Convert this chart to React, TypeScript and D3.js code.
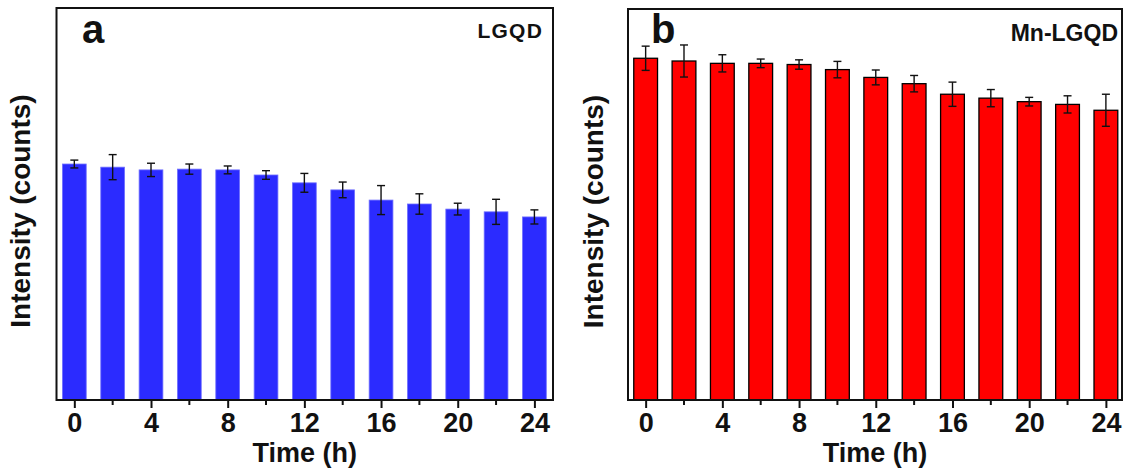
import React from "react";
import * as d3 from "d3";

// time points (h)
const times = [0, 2, 4, 6, 8, 10, 12, 14, 16, 18, 20, 22, 24];
const majorTicks = [0, 4, 8, 12, 16, 20, 24];
const minorTicks = [2, 6, 10, 14, 18, 22];

// intensity (arbitrary counts)
const lgqdValues = [60.2, 59.4, 58.7, 58.9, 58.7, 57.4, 55.4, 53.6, 51.0, 50.0, 48.7, 48.0, 46.7];
const lgqdErrors = [1.0, 3.2, 1.7, 1.3, 1.0, 1.1, 2.4, 2.0, 3.7, 2.6, 1.5, 3.2, 1.8];
const mnValues = [87.4, 86.7, 86.1, 86.1, 85.8, 84.5, 82.5, 80.9, 78.2, 77.2, 76.3, 75.6, 74.1];
const mnErrors = [3.1, 4.1, 2.2, 1.1, 1.2, 2.1, 1.9, 2.1, 3.1, 2.2, 1.1, 2.2, 4.1];

const W = 1125;
const H = 469;
const FONT = '"Liberation Sans", Arial, sans-serif';

type Panel = {
  letter: string;
  name: string;
  values: number[];
  errors: number[];
  left: number;
  right: number;
  top: number;
  bottom: number;
  domain: [number, number];
  fill: string;
  stroke: string;
  strokeWidth: number;
  yLabelX: number;
  letterX: number;
  nameSize: number;
  nameX: number;
  nameY: number;
  nameSpacing: number;
};

const panels: Panel[] = [
  {
    letter: "a", name: "LGQD", values: lgqdValues, errors: lgqdErrors,
    left: 56.5, right: 553, top: 8, bottom: 400, domain: [-0.93, 24.97],
    fill: "#2b2bff", stroke: "#6f6fff", strokeWidth: 0.8,
    yLabelX: 30, letterX: 82, nameSize: 21, nameX: 543, nameY: 37.5, nameSpacing: 1.2,
  },
  {
    letter: "b", name: "Mn-LGQD", values: mnValues, errors: mnErrors,
    left: 628, right: 1122, top: 9, bottom: 400, domain: [-0.92, 24.84],
    fill: "#ff0000", stroke: "#000", strokeWidth: 1.3,
    yLabelX: 603, letterX: 651, nameSize: 23, nameX: 1118, nameY: 40.5, nameSpacing: 0,
  },
];

const App = () => {
  const ref = React.useRef<SVGSVGElement>(null);

  React.useEffect(() => {
    const svg = d3.select(ref.current);
    svg.selectAll("*").remove();

    panels.forEach((p) => {
      const g = svg.append("g");
      const x = d3.scaleLinear().domain(p.domain).range([p.left, p.right]);
      const y = d3.scaleLinear().domain([0, 100]).range([p.bottom, p.top]);
      const bw = x(1.24) - x(0);

      // bars
      g.selectAll("rect.bar")
        .data(times)
        .enter()
        .append("rect")
        .attr("class", "bar")
        .attr("x", (d) => x(d) - bw / 2)
        .attr("y", (d, i) => y(p.values[i]))
        .attr("width", bw)
        .attr("height", (d, i) => p.bottom - y(p.values[i]))
        .attr("fill", p.fill)
        .attr("stroke", p.stroke)
        .attr("stroke-width", p.strokeWidth);

      // error bars
      const eb = g.selectAll("g.err").data(times).enter().append("g").attr("class", "err");
      eb.append("line")
        .attr("x1", (d) => x(d)).attr("x2", (d) => x(d))
        .attr("y1", (d, i) => y(p.values[i] + p.errors[i]))
        .attr("y2", (d, i) => y(p.values[i] - p.errors[i]));
      eb.append("line")
        .attr("x1", (d) => x(d) - 4).attr("x2", (d) => x(d) + 4)
        .attr("y1", (d, i) => y(p.values[i] + p.errors[i]))
        .attr("y2", (d, i) => y(p.values[i] + p.errors[i]));
      eb.append("line")
        .attr("x1", (d) => x(d) - 4).attr("x2", (d) => x(d) + 4)
        .attr("y1", (d, i) => y(p.values[i] - p.errors[i]))
        .attr("y2", (d, i) => y(p.values[i] - p.errors[i]));
      eb.selectAll("line").attr("stroke", "#111").attr("stroke-width", 1.4);

      // frame
      g.append("rect")
        .attr("x", p.left).attr("y", p.top)
        .attr("width", p.right - p.left).attr("height", p.bottom - p.top)
        .attr("fill", "none").attr("stroke", "#111").attr("stroke-width", 2);

      // x axis ticks
      const axis = d3.axisBottom(x).tickValues(majorTicks).tickSize(7).tickSizeOuter(0).tickPadding(5)
        .tickFormat((d) => String(d));
      const ax = g.append("g").attr("transform", `translate(0,${p.bottom + 1})`).call(axis);
      ax.select(".domain").remove();
      ax.selectAll(".tick line").attr("stroke", "#111").attr("stroke-width", 2);
      ax.selectAll(".tick text")
        .attr("fill", "#111")
        .style("font-family", FONT)
        .style("font-size", "27px")
        .style("font-weight", "bold");

      g.selectAll("line.minor")
        .data(minorTicks)
        .enter()
        .append("line")
        .attr("class", "minor")
        .attr("x1", (d) => x(d)).attr("x2", (d) => x(d))
        .attr("y1", p.bottom + 1).attr("y2", p.bottom + 5)
        .attr("stroke", "#111").attr("stroke-width", 2);

      // titles
      g.append("text")
        .attr("x", (p.left + p.right) / 2)
        .attr("y", 462)
        .attr("text-anchor", "middle")
        .style("font-family", FONT).style("font-size", "27px").style("font-weight", "bold")
        .attr("fill", "#111")
        .text("Time (h)");

      g.append("text")
        .attr("transform", `translate(${p.yLabelX},${(p.top + p.bottom) / 2 + 7}) rotate(-90)`)
        .attr("text-anchor", "middle")
        .style("font-family", FONT).style("font-size", "28px").style("font-weight", "bold")
        .attr("fill", "#111")
        .text("Intensity (counts)");

      g.append("text")
        .attr("x", p.letterX)
        .attr("y", 43)
        .style("font-family", FONT).style("font-size", "40px").style("font-weight", "bold")
        .attr("fill", "#111")
        .text(p.letter);

      g.append("text")
        .attr("x", p.nameX)
        .attr("y", p.nameY)
        .attr("text-anchor", "end")
        .style("font-family", FONT).style("font-size", p.nameSize + "px").style("font-weight", "bold")
        .style("letter-spacing", p.nameSpacing + "px")
        .attr("fill", "#111")
        .text(p.name);
    });
  }, []);

  return (
    <div style={{ position: "absolute", left: 0, top: 0 }}>
      <svg ref={ref} width={W} height={H} style={{ display: "block", background: "#fff" }}></svg>
    </div>
  );
};

export default App;
